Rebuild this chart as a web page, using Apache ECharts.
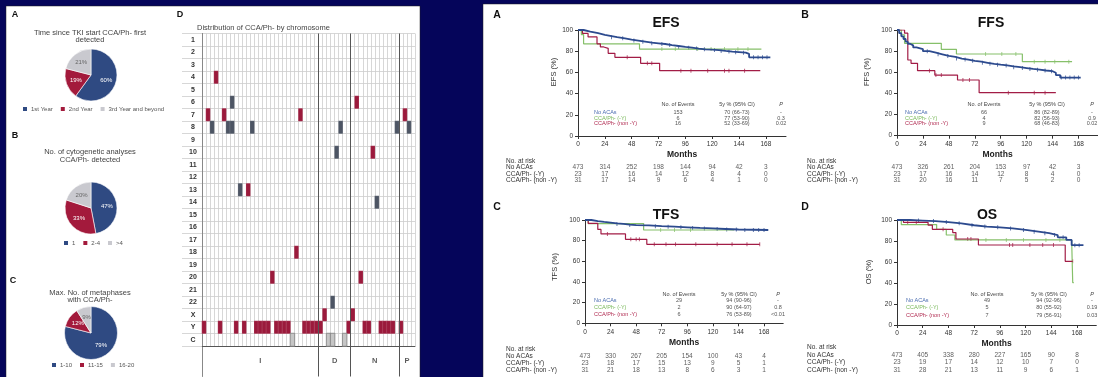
<!DOCTYPE html>
<html><head><meta charset="utf-8">
<script src="https://cdn.jsdelivr.net/npm/echarts@6/dist/echarts.min.js"></script>
<style>html,body{margin:0;padding:0;background:#05055a;}#c{width:1098px;height:377px;}</style>
</head><body><div id="c"></div>
<script>
// ---------------- DATA ----------------
const pieANames = ['1st Year', '2nd Year', '3rd Year and beyond'];
const pieAValues = [60, 19, 21];
const pieBNames = ['1', '2-4', '>4'];
const pieBValues = [47, 33, 20];
const pieCNames = ['1-10', '11-15', '16-20'];
const pieCValues = [79, 12, 9];

const chromRows = ['1','2','3','4','5','6','7','8','9','10','11','12','13','14','15','16','17','18','19','20','21','22','X','Y','C'];
const groupNames = ['I', 'D', 'N', 'P'];
const groupSizes = [29, 8, 12, 4];
const redCells = [[3,'4'],[38,'6'],[1,'7'],[5,'7'],[24,'7'],[50,'7'],[42,'10'],[11,'13'],[23,'18'],[17,'20'],[39,'20'],
  [30,'X'],[37,'X'],[0,'Y'],[4,'Y'],[8,'Y'],[10,'Y'],[13,'Y'],[14,'Y'],[15,'Y'],[16,'Y'],[18,'Y'],[19,'Y'],[20,'Y'],[21,'Y'],
  [25,'Y'],[26,'Y'],[27,'Y'],[28,'Y'],[29,'Y'],[36,'Y'],[40,'Y'],[41,'Y'],[44,'Y'],[45,'Y'],[46,'Y'],[47,'Y'],[49,'Y']];
const grayCells = [[7,'6'],[2,'8'],[6,'8'],[7,'8'],[12,'8'],[34,'8'],[48,'8'],[51,'8'],[33,'10'],[9,'13'],[43,'14'],[32,'22']];
const lightCells = [[22,'C'],[31,'C'],[32,'C'],[35,'C']];

const monthTicks = [0, 24, 48, 72, 96, 120, 144, 168];
const groupLabels = ['No ACAs', 'CCA/Ph- (-Y)', 'CCA/Ph- (non -Y)'];
const riskRows = ['No. at risk', 'No ACAs', 'CCA/Ph- (-Y)', 'CCA/Ph- (non -Y)'];
const tableHeads = ['No. of Events', '5y % (95% CI)', 'P'];

// EFS
const efsNoACA = [[0,100],[5,98.5],[11,97],[18,95.5],[24,94.3],[30,93.2],[35,92.1],[42,91],[48,90],[54,89],[60,88],[66,87.4],[72,86.8],[78,85.8],[84,84.9],[90,84],[96,83.3],[102,82.5],[108,81.8],[114,81.4],[120,81.1],[126,80.3],[132,79.6],[138,79.1],[144,78.6],[150,77.4],[153,74.2],[172,74.2]];
const efsMinusY = [[0,100],[3,95.7],[5,87],[55,82],[164,82]];
const efsNonY = [[0,100],[4,96.8],[9,93.5],[17,87],[20,84],[23,82.7],[27,78],[33,74.2],[56,68.6],[73,61.6],[163,61.6]];
const efsCensNoACA = [30,40,50,58,66,75,82,90,99,106,113,122,128,135,141,148,157,161,165,169];
const efsCensMinusY = [75,87,107,119,131,143,152];
const efsCensNonY = [44,62,66,92,101,116,131,135,149];
const efsEvents = ['153', '6', '16'];
const efsRate = ['70 (66-73)', '77 (53-90)', '52 (33-69)'];
const efsP = ['-', '0.3', '0.02'];
const efsRiskNoACA = [473,314,252,198,144,94,42,3];
const efsRiskMinusY = [23,17,16,14,12,8,4,0];
const efsRiskNonY = [31,17,14,9,6,4,1,0];

// FFS
const ffsNoACA = [[0,100],[2,97],[4,94],[6,91.5],[8,89],[10,87],[12,85.5],[15,83.5],[18,82],[24,80],[30,78.5],[36,77],[42,75.5],[48,74.5],[54,73],[60,72],[66,70.8],[72,70],[78,69],[84,68],[90,67.2],[96,66.5],[102,65.6],[108,64.8],[114,64],[120,63.2],[126,62.5],[132,61.7],[138,61],[144,59.5],[147,57.4],[151,55],[170,55]];
const ffsMinusY = [[0,100],[4,95.5],[7,87.4],[41,81.7],[55,77.3],[116,70],[162,70]];
const ffsNonY = [[0,100],[7,97],[10,71.6],[13,68.5],[19,61.5],[35,57.4],[56,52.7],[76,40.7],[147,40.7]];
const ffsCensNoACA = [28,38,47,55,63,70,79,86,93,101,108,116,123,130,137,143,152,156,160,164,168];
const ffsCensMinusY = [82,97,110,127,137,146,159];
const ffsCensNonY = [30,36,41,61,67,103,127,137];
const ffsEvents = ['66', '4', '9'];
const ffsRate = ['86 (82-89)', '82 (56-93)', '68 (46-83)'];
const ffsP = ['-', '0.9', '0.02'];
const ffsRiskNoACA = [473,326,261,204,153,97,42,3];
const ffsRiskMinusY = [23,17,16,14,12,8,4,0];
const ffsRiskNonY = [31,20,16,11,7,5,2,0];

// TFS
const tfsNoACA = [[0,100],[6,99],[12,98.2],[18,97.5],[24,96.8],[30,96.2],[36,95.6],[42,95.1],[48,94.8],[60,94],[72,93.5],[84,92.9],[96,92.3],[108,91.8],[120,91.3],[132,90.8],[144,90.3],[172,90.3]];
const tfsMinusY = [[0,100],[3,96.5],[55,90.3],[140,90.3]];
const tfsNonY = [[0,100],[3,96.8],[12,90.9],[15,86.5],[38,81.3],[58,76.5],[164,76.5]];
const tfsCensNoACA = [30,42,55,66,78,90,101,112,124,133,142,150,158,163,168];
const tfsCensMinusY = [71,84,99];
const tfsCensNonY = [21,43,48,51,65,76,85,104,124,138,152,164];
const tfsEvents = ['29', '2', '6'];
const tfsRate = ['94 (90-96)', '90 (64-97)', '76 (53-89)'];
const tfsP = ['-', '0.8', '<0.01'];
const tfsRiskNoACA = [473,330,267,205,154,100,43,4];
const tfsRiskMinusY = [23,18,17,15,13,9,5,1];
const tfsRiskNonY = [31,21,18,13,8,6,3,1];

// OS
const osNoACA = [[0,100],[12,99.5],[24,99],[36,98],[48,96.8],[60,95],[72,93.7],[84,93],[96,92],[108,90.5],[120,88.9],[132,87.5],[142,85.7],[150,83.5],[158,81],[163,76],[174,76]];
const osMinusY = [[0,100],[4,95.6],[37,91.1],[46,85.7],[54,81],[163,81],[164,40.3],[165,40.3]];
const osNonY = [[0,100],[6,97.8],[29,95.2],[33,91.1],[52,88],[55,81.9],[76,76.2],[157,60.6],[164,60.6]];
const osCensNoACA = [20,34,46,58,70,82,94,106,118,128,138,147,155,166,170];
const osCensMinusY = [83,102,118,139,152];
const osCensNonY = [10,18,43,66,69,105,108,124,136,146,164];
const osEvents = ['49', '5', '7'];
const osRate = ['94 (92-96)', '80 (55-92)', '79 (56-91)'];
const osP = ['-', '0.19', '0.03'];
const osRiskNoACA = [473,405,338,280,227,165,90,8];
const osRiskMinusY = [23,19,17,14,12,10,7,0];
const osRiskNonY = [31,28,21,13,11,9,6,1];

// ---------------- STYLE / BUILD ----------------
const FONT = '"Liberation Sans", Arial, sans-serif';
const BLUE = '#2c4a8e', GREEN = '#86c06a', RED = '#a21c46';
const LBLUE = '#4a6cb0', LGREEN = '#78b85a', LRED = '#b02a50';
const PIE_COLORS = ['#2f4a82', '#a31a3c', '#c9c9cf'];
const CELL_RED = '#9b1a3c', CELL_GRAY = '#4d5564', CELL_LIGHT = '#c6c6c6';

const grids = [], xAxes = [], yAxes = [], series = [], graphics = [], legends = [];
function addGrid(g) { grids.push(Object.assign({containLabel: false}, g)); return grids.length - 1; }
function T(x, y, text, o) {
  o = o || {};
  graphics.push({type: 'text', x: x, y: y, z: 50, silent: true, rotation: o.rotation || 0,
    style: {text: text, fill: o.color || '#333', fontSize: o.size || 7, fontWeight: o.weight || 'normal',
      fontStyle: o.style || 'normal', fontFamily: FONT, align: o.align || 'center', verticalAlign: 'middle'}});
}
function stepAt(data, t) { let v = data[0][1]; for (const p of data) { if (p[0] <= t) v = p[1]; } return v; }

// panels
graphics.push({type: 'rect', z: 0, silent: true, shape: {x: 6, y: 6, width: 414, height: 380}, style: {fill: '#fff', stroke: '#222', lineWidth: 0.5}});
graphics.push({type: 'rect', z: 0, silent: true, shape: {x: 483, y: 4, width: 620, height: 380}, style: {fill: '#fff', stroke: '#222', lineWidth: 0.5}});

// ---- pies ----
function pie(names, values, center, r, legendPos) {
  series.push({type: 'pie', center: center, radius: r, startAngle: 90, clockwise: true, silent: true,
    labelLine: {show: false},
    label: {show: true, position: 'inside', formatter: '{c}%', fontSize: 6, fontFamily: FONT},
    itemStyle: {borderColor: '#fff', borderWidth: 0.6},
    data: names.map((n, i) => ({name: n, value: values[i], itemStyle: {color: PIE_COLORS[i]}, label: {color: i === 2 ? '#666' : '#fff'}}))});
  legends.push({data: names, left: legendPos[0], top: legendPos[1], icon: 'rect', itemWidth: 6, itemHeight: 6, itemGap: 6,
    selectedMode: false, padding: 0, textStyle: {fontSize: 6, color: '#555', fontFamily: FONT, padding: [0, 0, 0, -2]}});
}
pie(pieANames, pieAValues, [91, 75], 26, [21, 105]);
pie(pieBNames, pieBValues, [91, 208], 26, [62, 239]);
pie(pieCNames, pieCValues, [91, 333], 26.5, [50, 361]);
T(15, 15, 'A', {size: 9, weight: 'bold', color: '#111'});
T(15, 136, 'B', {size: 9, weight: 'bold', color: '#111'});
T(13, 281, 'C', {size: 9, weight: 'bold', color: '#111'});
T(180, 15, 'D', {size: 9, weight: 'bold', color: '#111'});
T(90, 32.5, 'Time since TKI start CCA/Ph- first', {size: 7.5, color: '#444'});
T(90, 40, 'detected', {size: 7.5, color: '#444'});
T(90, 152, 'No. of cytogenetic analyses', {size: 7.5, color: '#444'});
T(90, 159.5, 'CCA/Ph- detected', {size: 7.5, color: '#444'});
T(90, 292.5, 'Max. No. of metaphases', {size: 7.5, color: '#444'});
T(90, 300, 'with CCA/Ph-', {size: 7.5, color: '#444'});
T(197, 28, 'Distribution of CCA/Ph- by chromosome', {size: 7.5, color: '#444', align: 'left'});

// ---- chromosome grid ----
const nPat = groupSizes.reduce((a, b) => a + b, 0);
const patients = Array.from({length: nPat}, (_, i) => String(i + 1));
const bounds = []; let acc = 0; const mids = [];
groupSizes.forEach((s, i) => { mids.push([acc + s / 2, 0.5, groupNames[i]]); acc += s; if (i < groupSizes.length - 1) bounds.push(acc); });

// outer frame
const gFrame = addGrid({left: 182, top: 33.5, width: 233, height: 343, show: true, borderColor: '#bdbdbd', borderWidth: 1, backgroundColor: 'transparent'});
xAxes.push({gridIndex: gFrame, type: 'value', show: false, min: 0, max: 1});
yAxes.push({gridIndex: gFrame, type: 'value', show: false, min: 0, max: 1});

const gHeat = addGrid({left: 202, top: 33.5, width: 213, height: 312.5});
xAxes.push({gridIndex: gHeat, type: 'category', data: patients,
  axisLine: {show: true, lineStyle: {color: '#555', width: 1}}, axisTick: {show: false}, axisLabel: {show: false},
  splitLine: {show: true, interval: 0, lineStyle: {color: '#cdcdcd', width: 0.8}}});
const xHeat = xAxes.length - 1;
yAxes.push({gridIndex: gHeat, type: 'category', data: chromRows, inverse: true,
  axisLine: {show: true, lineStyle: {color: '#888'}},
  axisTick: {show: true, interval: 0, length: 20, inside: false, lineStyle: {color: '#cdcdcd', width: 0.8}},
  axisLabel: {interval: 0, fontSize: 7, fontWeight: 'bold', color: '#333', align: 'center', margin: 9, fontFamily: FONT},
  splitLine: {show: true, interval: 0, lineStyle: {color: '#cdcdcd', width: 0.8}}});
const yHeat = yAxes.length - 1;
const heatData = [];
redCells.forEach(c => heatData.push({value: [c[0], chromRows.indexOf(c[1]), 1]}));
grayCells.forEach(c => heatData.push({value: [c[0], chromRows.indexOf(c[1]), 2]}));
lightCells.forEach(c => heatData.push({value: [c[0], chromRows.indexOf(c[1]), 3], itemStyle: {borderColor: '#808080', borderWidth: 0.8}}));
const heatIndex = series.length;
series.push({type: 'heatmap', xAxisIndex: xHeat, yAxisIndex: yHeat, data: heatData, silent: true,
  itemStyle: {borderColor: 'rgba(255,255,255,0.25)', borderWidth: 0.5}});

const gOver = addGrid({left: 202, top: 33.5, width: 213, height: 343});
xAxes.push({gridIndex: gOver, type: 'value', min: 0, max: nPat, show: false});
yAxes.push({gridIndex: gOver, type: 'value', min: 0, max: 1, axisLine: {show: true, lineStyle: {color: '#888'}}, axisTick: {show: false}, axisLabel: {show: false}, splitLine: {show: false}});
series.push({type: 'scatter', xAxisIndex: xAxes.length - 1, yAxisIndex: yAxes.length - 1, symbolSize: 0, silent: true,
  data: bounds.map(b => [b, 0]),
  markLine: {silent: true, symbol: 'none', label: {show: false}, lineStyle: {color: '#555', width: 1, type: 'solid'},
    data: bounds.map(b => ({xAxis: b}))}});

const gBand = addGrid({left: 202, top: 346.5, width: 213, height: 29.5});
xAxes.push({gridIndex: gBand, type: 'value', min: 0, max: nPat, show: false});
yAxes.push({gridIndex: gBand, type: 'value', min: 0, max: 1, show: false});
series.push({type: 'scatter', xAxisIndex: xAxes.length - 1, yAxisIndex: yAxes.length - 1, symbolSize: 1, silent: true,
  itemStyle: {color: 'rgba(0,0,0,0)'}, data: mids,
  label: {show: true, position: 'inside', formatter: p => p.value[2], fontSize: 7.5, fontWeight: 'bold', color: '#333', fontFamily: FONT}});

// ---- KM panels ----
function km(cfg) {
  const gi = addGrid({left: cfg.left, top: cfg.top, width: cfg.width, height: cfg.height});
  xAxes.push({gridIndex: gi, type: 'value', min: 0, max: 186,
    axisLine: {lineStyle: {color: '#333', width: 1}},
    axisTick: {customValues: monthTicks, length: 3, lineStyle: {color: '#333'}},
    axisLabel: {customValues: monthTicks, fontSize: 6.5, color: '#333', margin: 5, fontFamily: FONT},
    splitLine: {show: false},
    name: 'Months', nameLocation: 'middle', nameGap: 14.5,
    nameTextStyle: {fontSize: 8.5, fontWeight: 'bold', color: '#222', fontFamily: FONT}});
  const xi = xAxes.length - 1;
  yAxes.push({gridIndex: gi, type: 'value', min: 0, max: 100, interval: 20,
    axisLine: {show: true, lineStyle: {color: '#333', width: 1}},
    axisTick: {show: true, length: 3, lineStyle: {color: '#333'}},
    axisLabel: {fontSize: 6.5, color: '#333', margin: 5, fontFamily: FONT},
    splitLine: {show: false}});
  const yi = yAxes.length - 1;
  cfg.curves.forEach(c => {
    series.push({type: 'line', xAxisIndex: xi, yAxisIndex: yi, data: c.data, step: 'end', symbol: 'none', silent: true,
      lineStyle: {color: c.color, width: c.width}});
    series.push({type: 'scatter', xAxisIndex: xi, yAxisIndex: yi, silent: true, symbol: 'rect', symbolSize: [0.9, 4],
      itemStyle: {color: c.color}, data: c.censor.map(t => [t, stepAt(c.data, t)])});
  });
  // risk table
  const ri = addGrid({left: cfg.left, top: cfg.riskTop, width: cfg.width, height: cfg.riskH});
  xAxes.push({gridIndex: ri, type: 'value', min: 0, max: 186, show: false});
  yAxes.push({gridIndex: ri, type: 'category', data: riskRows, inverse: true,
    axisLine: {show: false}, axisTick: {show: false}, splitLine: {show: false},
    axisLabel: {interval: 0, align: 'left', margin: cfg.left - cfg.riskLabelX, fontSize: 6.5, color: '#333', fontFamily: FONT}});
  const rd = [];
  cfg.risk.forEach((row, i) => row.forEach((v, j) => rd.push([monthTicks[j], riskRows[i + 1], v])));
  series.push({type: 'scatter', xAxisIndex: xAxes.length - 1, yAxisIndex: yAxes.length - 1, symbolSize: 1, silent: true,
    itemStyle: {color: 'rgba(0,0,0,0)'}, data: rd,
    label: {show: true, position: 'inside', formatter: p => String(p.value[2]), fontSize: 6.5, color: '#333', fontFamily: FONT}});
  // texts
  T(cfg.letter[0], cfg.letter[1], cfg.letter[2], {size: 10.5, weight: 'bold', color: '#111'});
  T(cfg.title[0], cfg.title[1], cfg.title[2], {size: 14, weight: 'bold', color: '#111'});
  T(cfg.yName[0], cfg.yName[1], cfg.yName[2], {size: 7.5, color: '#333', rotation: Math.PI / 2});
  const tb = cfg.table;
  T(tb.cols[0], tb.headY, tableHeads[0], {size: 5.5, color: '#444'});
  T(tb.cols[1], tb.headY, tableHeads[1], {size: 5.5, color: '#444'});
  T(tb.cols[2], tb.headY, tableHeads[2], {size: 5.5, color: '#444', style: 'italic'});
  const labCols = [LBLUE, LGREEN, LRED];
  for (let i = 0; i < 3; i++) {
    T(tb.labelX, tb.rows[i], groupLabels[i], {size: 5.5, color: labCols[i], align: 'left'});
    T(tb.cols[0], tb.rows[i], cfg.events[i], {size: 5.5, color: '#555'});
    T(tb.cols[1], tb.rows[i], cfg.rate[i], {size: 5.5, color: '#555'});
    T(tb.cols[2], tb.rows[i], cfg.p[i], {size: 5.5, color: '#555'});
  }
}

function curves(noAca, minusY, nonY, cNo, cMinus, cNon) {
  return [
    {data: minusY, censor: cMinus, color: GREEN, width: 1.2},
    {data: nonY, censor: cNon, color: RED, width: 1.2},
    {data: noAca, censor: cNo, color: BLUE, width: 1.8}
  ];
}

km({left: 578, top: 30, width: 208, height: 106,
  curves: curves(efsNoACA, efsMinusY, efsNonY, efsCensNoACA, efsCensMinusY, efsCensNonY),
  riskTop: 158, riskH: 25.4, riskLabelX: 506, risk: [efsRiskNoACA, efsRiskMinusY, efsRiskNonY],
  letter: [497, 15, 'A'], title: [666, 23, 'EFS'], yName: [554, 72, 'EFS (%)'],
  events: efsEvents, rate: efsRate, p: efsP,
  table: {labelX: 594, cols: [678, 737, 781], headY: 104, rows: [112, 118, 123.5]}});

km({left: 897, top: 30, width: 202.6, height: 105.7,
  curves: curves(ffsNoACA, ffsMinusY, ffsNonY, ffsCensNoACA, ffsCensMinusY, ffsCensNonY),
  riskTop: 158, riskH: 25.4, riskLabelX: 807, risk: [ffsRiskNoACA, ffsRiskMinusY, ffsRiskNonY],
  letter: [805, 15, 'B'], title: [991, 23, 'FFS'], yName: [867, 72, 'FFS (%)'],
  events: ffsEvents, rate: ffsRate, p: ffsP,
  table: {labelX: 905, cols: [984, 1047, 1092], headY: 104, rows: [112, 118, 123.5]}});

km({left: 585, top: 220, width: 198.2, height: 103.3,
  curves: curves(tfsNoACA, tfsMinusY, tfsNonY, tfsCensNoACA, tfsCensMinusY, tfsCensNonY),
  riskTop: 345.8, riskH: 27.6, riskLabelX: 506, risk: [tfsRiskNoACA, tfsRiskMinusY, tfsRiskNonY],
  letter: [497, 207, 'C'], title: [666, 215, 'TFS'], yName: [555, 267, 'TFS (%)'],
  events: tfsEvents, rate: tfsRate, p: tfsP,
  table: {labelX: 594, cols: [679, 739, 778], headY: 294, rows: [300.5, 307, 314]}});

km({left: 897, top: 220, width: 199.3, height: 105,
  curves: curves(osNoACA, osMinusY, osNonY, osCensNoACA, osCensMinusY, osCensNonY),
  riskTop: 343.5, riskH: 30, riskLabelX: 807, risk: [osRiskNoACA, osRiskMinusY, osRiskNonY],
  letter: [805, 207, 'D'], title: [987, 215, 'OS'], yName: [869, 272, 'OS (%)'],
  events: osEvents, rate: osRate, p: osP,
  table: {labelX: 906, cols: [987, 1049, 1092], headY: 294, rows: [300.5, 307.5, 315]}});

const chart = echarts.init(document.getElementById('c'), null, {renderer: 'canvas'});
chart.setOption({
  animation: false,
  backgroundColor: '#05055a',
  textStyle: {fontFamily: FONT},
  grid: grids, xAxis: xAxes, yAxis: yAxes, series: series, legend: legends,
  visualMap: [{type: 'piecewise', show: false, seriesIndex: heatIndex, dimension: 2,
    pieces: [{value: 1, color: CELL_RED}, {value: 2, color: CELL_GRAY}, {value: 3, color: CELL_LIGHT}]}],
  graphic: {elements: graphics}
});
</script></body></html>
